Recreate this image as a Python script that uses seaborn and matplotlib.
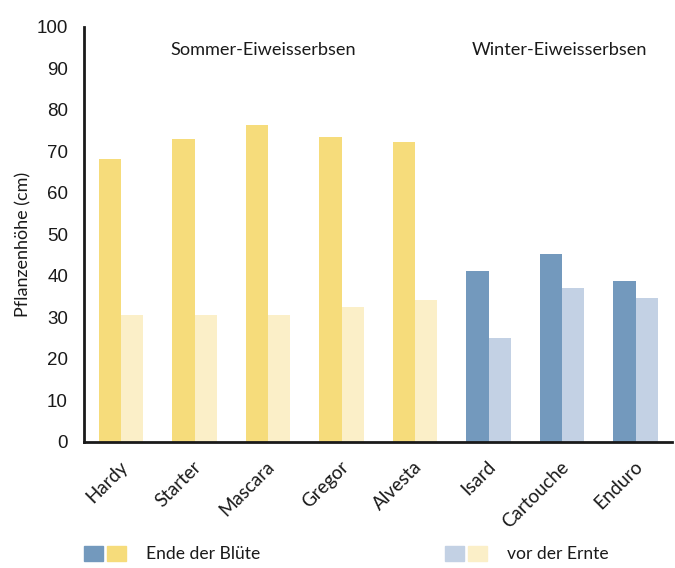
import numpy as np
import pandas as pd
import matplotlib
matplotlib.use("Agg")
import matplotlib.pyplot as plt
import matplotlib.transforms as mtransforms
from matplotlib.patches import Patch
from matplotlib.legend_handler import HandlerTuple
from matplotlib.ticker import MultipleLocator
import seaborn as sns

# ---- data ----
sorten = ["Hardy", "Starter", "Mascara", "Gregor", "Alvesta", "Isard", "Cartouche", "Enduro"]
gruppe = ["Sommer", "Sommer", "Sommer", "Sommer", "Sommer", "Winter", "Winter", "Winter"]
ende_bluete = [68.1, 72.9, 76.3, 73.4, 72.2, 41.1, 45.2, 38.7]
vor_ernte = [30.5, 30.5, 30.5, 32.5, 34.1, 25.0, 37.0, 34.6]
stadien = ["Ende der Blüte", "vor der Ernte"]
gruppen_titel = ["Sommer-Eiweisserbsen", "Winter-Eiweisserbsen"]
y_ticks = [0, 10, 20, 30, 40, 50, 60, 70, 80, 90, 100]

# ---- style ----
farben = {
    ("Sommer", 0): "#F6DC7B",
    ("Sommer", 1): "#FBEFC8",
    ("Winter", 0): "#7399BD",
    ("Winter", 1): "#C3D1E4",
}
ink = "#1a1a1a"

sns.set_style("white")
plt.rcParams["font.family"] = ["Lato", "DejaVu Sans"]

df = pd.DataFrame({
    "Sorte": sorten * 2,
    "Stadium": [stadien[0]] * len(sorten) + [stadien[1]] * len(sorten),
    "Höhe": ende_bluete + vor_ernte,
})

fig = plt.figure(figsize=(6.75, 5.68), dpi=100)
ax = fig.add_axes([84.25 / 675, 1 - 441.7 / 568, 588 / 675, 415 / 568])

sns.barplot(data=df, x="Sorte", y="Höhe", hue="Stadium", order=sorten,
            hue_order=stadien, width=0.6, dodge=True, legend=False,
            saturation=1, ax=ax, errorbar=None)

for si, cont in enumerate(ax.containers):
    for bi, bar in enumerate(cont):
        bar.set_facecolor(farben[(gruppe[bi], si)])
        bar.set_edgecolor("none")
        bar.set_linewidth(0)

ax.set_xlim(-0.5, len(sorten) - 0.5)
ax.set_ylim(0, 100)

for s in ["top", "right"]:
    ax.spines[s].set_visible(False)
for s in ["left", "bottom"]:
    ax.spines[s].set_linewidth(2)
    ax.spines[s].set_color(ink)

ax.set_yticks(y_ticks)
ax.yaxis.set_minor_locator(MultipleLocator(5))
ax.tick_params(axis="y", which="major", length=7.2, width=1.1, color=ink,
               labelsize=13.5, labelcolor=ink, pad=4.5)
ax.tick_params(axis="y", which="minor", length=5, width=1.1, color=ink)
for lab in ax.get_yticklabels():
    lab.set_family(["Liberation Sans", "DejaVu Sans"])

ax.set_xticks(range(len(sorten)))
ax.set_xticklabels(sorten)
ax.set_xticks(np.arange(-0.5, len(sorten), 1.0), minor=True)
ax.tick_params(axis="x", which="major", length=0, labelsize=13.5, labelcolor=ink, pad=16)
ax.tick_params(axis="x", which="minor", length=6, width=1.1, color=ink)
offset = mtransforms.ScaledTranslation(4 / 100, 0, fig.dpi_scale_trans)
for lab in ax.get_xticklabels():
    lab.set_rotation(45)
    lab.set_ha("right")
    lab.set_va("center")
    lab.set_rotation_mode("anchor")
    lab.set_transform(lab.get_transform() + offset)

ax.set_xlabel("")
ax.set_ylabel("Pflanzenhöhe (cm)", fontsize=13, color=ink)
ax.yaxis.set_label_coords(-0.0906, 0.475)

ax.text(1.93, 94.3, gruppen_titel[0], ha="center", va="center", fontsize=13.1, color=ink)
ax.text(5.96, 94.3, gruppen_titel[1], ha="center", va="center", fontsize=13.1, color=ink)

h1 = (Patch(color=farben[("Winter", 0)]), Patch(color=farben[("Sommer", 0)]))
h2 = (Patch(color=farben[("Winter", 1)]), Patch(color=farben[("Sommer", 1)]))
fs_leg = 12.6
common = dict(loc="center left", frameon=False, borderpad=0, borderaxespad=0,
              handlelength=42 / (fs_leg * 100 / 72), handleheight=17 / (fs_leg * 100 / 72),
              handletextpad=20 / (fs_leg * 100 / 72),
              fontsize=fs_leg, labelcolor=ink,
              handler_map={tuple: HandlerTuple(ndivide=None, pad=4 / (fs_leg * 100 / 72))})
leg1 = fig.legend([h1], [stadien[0]], bbox_to_anchor=(84 / 675, 1 - 554 / 568), **common)
leg2 = fig.legend([h2], [stadien[1]], bbox_to_anchor=(445 / 675, 1 - 554 / 568), **common)

fig.savefig("out.png", dpi=100)
